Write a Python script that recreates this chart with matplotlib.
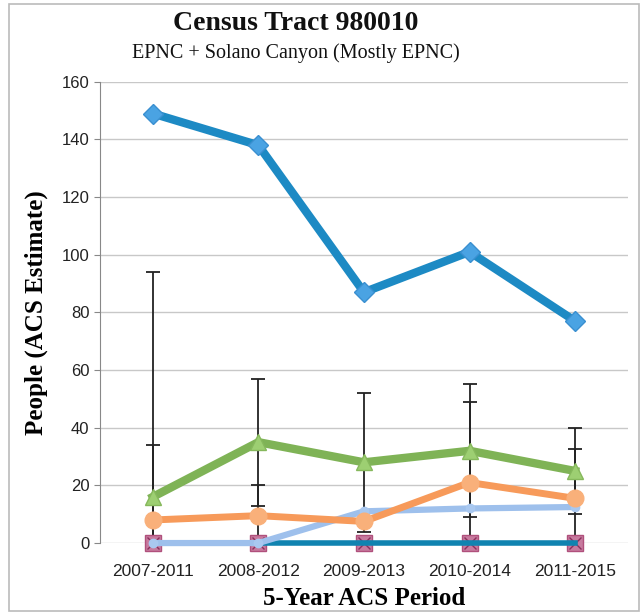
import matplotlib.pyplot as plt
from matplotlib.patches import Rectangle

periods = ["2007-2011", "2008-2012", "2009-2013", "2010-2014", "2011-2015"]

blue = [149, 138, 87, 101, 77]
green = [16, 35, 28, 32, 25]
green_err = [78, 22, 24, 23, 15]
orange = [8, 9.5, 7.5, 21, 15.5]
orange_err = [26, 10.5, 0, 28, 17]
light_blue = [0, 0, 11, 12, 12.5]
teal = [None, 0, 0, 0, 0]
pink = [0, 0, 0, 0, 0]

serif = ["Liberation Serif", "DejaVu Serif"]
sans = ["Liberation Sans Narrow", "Liberation Sans", "DejaVu Sans"]

fig = plt.figure(figsize=(6.43, 6.15), dpi=100)
ax = fig.add_axes([0.1555, 0.117, 0.821, 0.75])
x = list(range(len(periods)))

# error bars first so the lines sit on them
ax.errorbar(x, green, yerr=green_err, fmt="none", ecolor="#222222", elinewidth=1.3, capsize=5, capthick=1.3, zorder=2)
ax.errorbar(x, orange, yerr=orange_err, fmt="none", ecolor="#222222", elinewidth=1.3, capsize=5, capthick=1.3, zorder=2)

ax.plot(x, pink, linewidth=0, marker="s", markersize=12,
        markerfacecolor="#c77a9e", markeredgecolor="#b0507c", clip_on=False, zorder=3)
ax.plot(x, pink, linewidth=0, marker="x", markersize=9, color="#8a2f5c", clip_on=False, zorder=3)
ax.plot(x, teal, color="#1083b0", linewidth=4, zorder=4, clip_on=False)
ax.plot(x, light_blue, color="#9ec0ec", linewidth=4.5, marker="o", markersize=6,
        markerfacecolor="#a9c8f0", markeredgecolor="#a9c8f0", zorder=5, clip_on=False)
ax.plot(x, orange, color="#f79a5a", linewidth=5, marker="o", markersize=12,
        markerfacecolor="#f9b07a", markeredgecolor="#f9b07a", zorder=6)
ax.plot(x, green, color="#7fb356", linewidth=6, marker="^", markersize=12,
        markerfacecolor="#9dcf72", markeredgecolor="#86b85c", zorder=7)
ax.plot(x, blue, color="#1d8ac4", linewidth=6, marker="D", markersize=10,
        markerfacecolor="#4aa3e3", markeredgecolor="#3a8fd0", zorder=8)

ax.set_xlim(-0.5, len(periods) - 0.5)
ax.set_ylim(0, 160)
ax.set_yticks(range(0, 161, 20))
ax.set_xticks(x)
ax.set_xticklabels(periods, family=sans, fontsize=12.5, color="#222222")
ax.tick_params(axis="y", labelsize=12, colors="#222222", length=4, color="#888888")
for lab in ax.get_yticklabels():
    lab.set_family(sans)
ax.tick_params(axis="x", length=0, pad=15)
ax.grid(axis="y", color="#c8c8c8", linewidth=1)
ax.set_axisbelow(True)
for s in ["top", "right", "bottom"]:
    ax.spines[s].set_visible(False)
ax.spines["left"].set_color("#888888")

ax.set_ylabel("People (ACS Estimate)", family=serif, fontsize=18, fontweight="bold", labelpad=10)
ax.set_xlabel("5-Year ACS Period", family=serif, fontsize=18, fontweight="bold", labelpad=6)

fig.text(0.46, 0.961, "Census Tract 980010", family=serif, fontsize=20, fontweight="bold",
         ha="center", va="center", color="#111111")
fig.text(0.46, 0.914, "EPNC + Solano Canyon (Mostly EPNC)", family=serif, fontsize=14.5,
         ha="center", va="center", color="#111111")

fig.patches.append(Rectangle((0.014, 0.006), 0.98, 0.988, transform=fig.transFigure,
                             fill=False, edgecolor="#bbbbbb", linewidth=1.2))

fig.savefig("out.png", dpi=100)
